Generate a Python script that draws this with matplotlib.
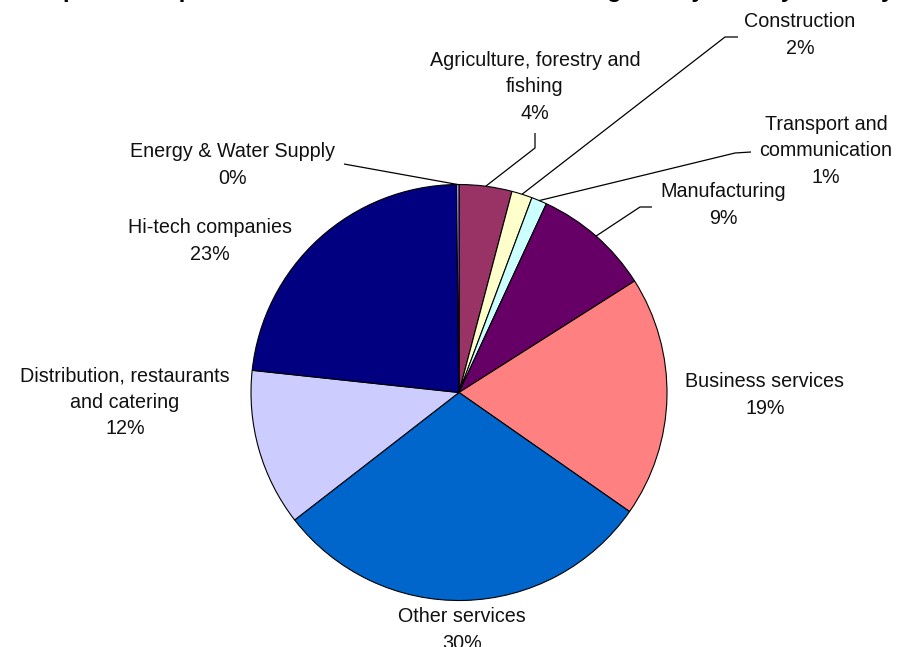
import matplotlib
matplotlib.use("Agg")
import matplotlib.pyplot as plt
import numpy as np

# Share of firms by industry sector (percent), clockwise from 12 o'clock
sectors = [
    "Agriculture, forestry and\nfishing",
    "Construction",
    "Transport and\ncommunication",
    "Manufacturing",
    "Business services",
    "Other services",
    "Distribution, restaurants\nand catering",
    "Hi-tech companies",
    "Energy & Water Supply",
]
shares = [4.1, 1.6, 1.2, 9.1, 18.7, 29.8, 12.2, 23.1, 0.2]
colors = ["#993366", "#FFFFCC", "#CCFFFF", "#660066", "#FF8080",
          "#0066CC", "#CCCCFF", "#000080", "#9999FF"]

title = "Graph 3: Composition of businesses in the Cambridge study area by industry base of the firm"

W, H = 903, 647
FONT = ["Liberation Sans", "DejaVu Sans"]

fig = plt.figure(figsize=(W / 100, H / 100), dpi=100)
ax = fig.add_axes([0, 0, 1, 1])


def px(x, y):
    """Pixel position (origin top-left) to data coordinates."""
    return x, H - y


cx, cy = px(459, 392.5)
radius = 208
wedges, _ = ax.pie(
    shares,
    colors=colors,
    startangle=90,
    counterclock=False,
    center=(cx, cy),
    radius=radius,
    wedgeprops=dict(edgecolor="black", linewidth=0.8),
)
ax.set_xlim(0, W)
ax.set_ylim(0, H)
ax.set_aspect("auto")
ax.axis("off")

# label centres and leader-line elbows (pixels)
label_pos = [
    (535, 87), (800, 35), (826, 151), (723, 205), (765, 395),
    (462, 630), (125, 402), (210, 241), (233, 165),
]
leaders = {
    0: [(535, 133), (535, 148)],
    1: [(738, 37), (725, 37)],
    2: [(751, 152), (735, 153)],
    3: [(652, 207), (640, 207)],
    8: [(344, 164)],
}

for i, (name, val) in enumerate(zip(sectors, shares)):
    x, y = px(*label_pos[i])
    ax.text(x, y, f"{name}\n{val:.0f}%", ha="center", va="center",
            fontsize=14.2, linespacing=1.48, family=FONT, color="#111111")
    if i in leaders:
        w = wedges[i]
        mid = np.deg2rad((w.theta1 + w.theta2) / 2)
        ex = cx + radius * np.cos(mid)
        ey = cy + radius * np.sin(mid)
        pts = [px(*p) for p in leaders[i]] + [(ex, ey)]
        xs, ys = zip(*pts)
        ax.plot(xs, ys, color="black", linewidth=0.9, solid_capstyle="butt")

fig.text(22 / W, 1 + 3.5 / H, title, ha="left", va="baseline",
         fontsize=17, fontweight="bold", family=FONT, color="black")

fig.savefig("out.png", dpi=100, facecolor="white")
